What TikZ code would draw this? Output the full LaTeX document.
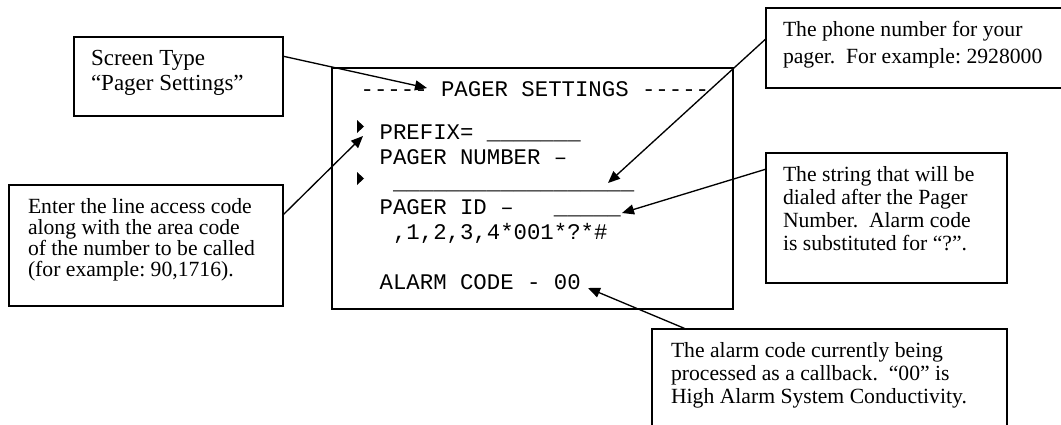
\documentclass[tikz,border=0pt]{standalone}
\usepackage{fontspec}
\setmainfont{Liberation Serif}
\setmonofont{Liberation Mono}
\usetikzlibrary{arrows.meta}
\frenchspacing

\begin{document}
\begin{tikzpicture}[x=0.6pt, y=-0.6pt, line width=0.8pt,
    box/.style = {draw, inner sep=0pt},
    note/.style = {anchor=north west, align=left, inner sep=0pt},
    lcd/.style = {anchor=base west, inner sep=0pt, font=\ttfamily\fontsize{13.4}{15}\selectfont},
    pointer/.style = {-{Triangle[length=7.2pt, width=6pt]}}]
    \useasboundingbox (0,0) rectangle (1061,425);
    % the pager settings screen
    \node[box, minimum width=240.6pt, minimum height=144.6pt] (screen) at (532.5,188.5) {};
    \node[lcd] (title) at (360,96) {-{}-{}-{}-{}- PAGER SETTINGS -{}-{}-{}-{}-};
    \node[lcd] (prefix) at (379,139) {PREFIX= \_\_\_\_\_\_\_};
    \node[lcd] (number) at (379,164) {PAGER NUMBER –};
    \node[lcd] (blank) at (379,189) {\ \_\_\_\_\_\_\_\_\_\_\_\_\_\_\_\_\_\_};
    \node[lcd] (pagerid) at (379,214) {PAGER ID –\ \ \ \_\_\_\_\_};
    \node[lcd] (dialstr) at (379,239) {\ ,1,2,3,4*001*?*\#};
    \node[lcd] (alarmcode) at (379,289) {ALARM CODE - 00};
    \fill (357,120) -- (364,126.5) -- (357,133) -- cycle;
    \fill (357,172) -- (364,178.5) -- (357,185) -- cycle;
    % callout boxes
    \node[box, minimum width=125.4pt, minimum height=47.4pt] (typebox) at (178.5,76.5) {};
    \node[box, minimum width=164.4pt, minimum height=72.6pt] (accessbox) at (146,245.5) {};
    \node[box, minimum width=178.8pt, minimum height=48pt] (phonebox) at (915,48) {};
    \node[box, minimum width=144.6pt, minimum height=78pt] (dialbox) at (886.5,218) {};
    \node[box, minimum width=213pt, minimum height=66.6pt] (alarmbox) at (829.5,384.5) {};
    % callout texts
    \node[note, font=\fontsize{13.8}{15}\selectfont] (typetext)
        at ([shift={(17,13.5)}]typebox.north west) {Screen Type\\“Pager Settings”};
    \node[note, font=\fontsize{13}{12.6}\selectfont] (accesstext)
        at ([shift={(19,13.5)}]accessbox.north west)
        {Enter the line access code\\along with the area code\\of the number to be called\\(for example: 90,1716).};
    \node[note, font=\fontsize{13}{16.2}\selectfont] (phonetext)
        at ([shift={(17,13.5)}]phonebox.north west)
        {The phone number for your\\pager.~ For example: 2928000};
    \node[note, font=\fontsize{13}{13.8}\selectfont] (dialtext)
        at ([shift={(17,13.5)}]dialbox.north west)
        {The string that will be\\dialed after the Pager\\Number.~ Alarm code\\is substituted for “?”.};
    \node[note, font=\fontsize{13}{13.8}\selectfont] (alarmtext)
        at ([shift={(19,13.5)}]alarmbox.north west)
        {The alarm code currently being\\processed as a callback.~ “00” is\\High Alarm System Conductivity.};
    % arrow ends on the screen
    \coordinate (t1) at (427,88);
    \coordinate (t2) at (363,136);
    \coordinate (t3) at (608,183);
    \coordinate (t4) at (622,213);
    \coordinate (t5) at (588,288);
    \draw[pointer] ([yshift=-12pt]typebox.north east) -- (t1);
    \draw[pointer] ([yshift=-18pt]accessbox.north east) -- (t2);
    \draw[pointer] ([yshift=-19.2pt]phonebox.north west) -- (t3);
    \draw[pointer] ([yshift=-10.2pt]dialbox.north west) -- (t4);
    \draw[pointer] ([xshift=19.8pt]alarmbox.north west) -- (t5);
\end{tikzpicture}
\end{document}
